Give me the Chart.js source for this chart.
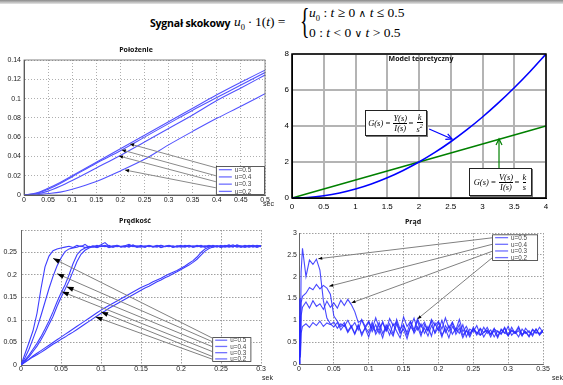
<!DOCTYPE html>
<html><head><meta charset="utf-8">
<script src="https://cdn.jsdelivr.net/npm/chart.js@4.4.1/dist/chart.umd.min.js"></script>
<style>
body{margin:0;width:563px;height:385px;position:relative;background:#fff;overflow:hidden;font-family:'Liberation Sans',Arial,sans-serif}
canvas{position:absolute}
.t{position:absolute;white-space:nowrap;line-height:1}
.c{transform:translate(-50%,-50%)}
.ttl{font:bold 7px 'Open Sans','Liberation Sans',sans-serif;color:#111}
.ser{font-family:'Liberation Serif','Times New Roman',serif}
.op{font-family:'DejaVu Sans',sans-serif;font-size:10.5px;font-weight:normal}
.fr{display:inline-block;vertical-align:middle;text-align:center;margin:0 1px}
.fr span{display:block;line-height:1.05}
.fr span.n{border-bottom:0.8px solid #000}
.fbox{position:absolute;background:#fff;border:1px solid #222;box-shadow:1px 1px 0 #777;display:flex;align-items:center;justify-content:center;font:italic 8.5px 'Liberation Serif',serif;white-space:nowrap}
</style></head><body>
<div style="position:absolute;left:0;top:0;width:563px;height:4px;background:linear-gradient(#8a8a8a,#e6e6e6)"></div>

<div class="t" style="left:150px;top:16px;font:bold 10.5px 'Open Sans',sans-serif;letter-spacing:-0.2px">Sygnał skokowy</div>
<div class="t ser" style="left:234px;top:15px;font-size:13.5px"><i>u</i><sub style="font-size:8.5px">0</sub>&thinsp;·&thinsp;1(<i>t</i>) =</div>
<div class="t ser" style="left:300px;top:3px;font-size:36px;transform:scaleX(0.55);transform-origin:left top">{</div>
<div class="t ser" style="left:309px;top:6px;font-size:13.5px"><i>u</i><sub style="font-size:8.5px">0</sub> : <i>t</i> ≥ 0 <span class="op">∧</span> <i>t</i> ≤ 0.5</div>
<div class="t ser" style="left:309px;top:26px;font-size:13.5px">0 : <i>t</i> &lt; 0 <span class="op">∨</span> <i>t</i> &gt; 0.5</div>

<canvas id="c1" width="280" height="172" style="left:0;top:40px"></canvas>
<canvas id="c2" width="283" height="172" style="left:280px;top:40px"></canvas>
<canvas id="c3" width="280" height="170" style="left:0;top:215px"></canvas>
<canvas id="c4" width="283" height="170" style="left:280px;top:215px"></canvas>

<div class="t c ttl" style="left:136px;top:49px">Położenie</div>
<div class="t" style="left:263px;top:200px;font-size:7px;color:#222">sec</div>
<div class="t c ttl" style="left:421px;top:58px">Model teoretyczny</div>
<div class="fbox" style="left:365px;top:110px;width:60px;height:24px">G(s)&thinsp;=&thinsp;<span class="fr"><span class="n">Y(s)</span><span>I(s)</span></span>=&thinsp;<span class="fr"><span class="n">k</span><span>s<sup style="font-size:6px">2</sup></span></span></div>
<div class="fbox" style="left:469px;top:168px;width:61px;height:26px">G(s)&thinsp;=&thinsp;<span class="fr"><span class="n">V(s)</span><span>I(s)</span></span>=&thinsp;<span class="fr"><span class="n">k</span><span>s</span></span></div>
<div class="t c ttl" style="left:135px;top:220px">Prędkość</div>
<div class="t" style="left:262px;top:374px;font-size:7px;color:#222">sek</div>
<div class="t c ttl" style="left:413px;top:221px">Prąd</div>
<div class="t" style="left:552px;top:374px;font-size:7px;color:#222">sek</div>

<script>
// ---------- data ----------
const uLabels = ['u=0.5','u=0.4','u=0.3','u=0.2'];

// Położenie
const posT   = [0,0.025,0.05,0.075,0.1,0.15,0.2,0.25,0.3,0.35,0.4,0.45,0.5];
const posU05 = [0,0.002,0.007,0.013,0.02,0.034,0.048,0.062,0.076,0.090,0.104,0.117,0.1295];
const posU04 = [0,0.0015,0.006,0.012,0.019,0.033,0.046,0.060,0.074,0.088,0.101,0.114,0.127];
const posU03 = [0,0.001,0.004,0.009,0.015,0.028,0.041,0.055,0.069,0.083,0.098,0.111,0.1244];
const posU02 = [0,0.0003,0.0015,0.003,0.006,0.014,0.025,0.037,0.052,0.066,0.0795,0.092,0.105];
const posXTicks = [0,0.05,0.1,0.15,0.2,0.25,0.3,0.35,0.4,0.45,0.5];
const posXLabels = ['0','0.05','0.1','0.15','0.2','0.25','0.3','0.35','0.4','0.45','0.5'];
const posYTicks = [0,0.02,0.04,0.06,0.08,0.1,0.12,0.14];
const posYLabels = ['0','0.02','0.04','0.06','0.08','0.1','0.12','0.14'];
const posArrowFrom = [[0.4,0.028],[0.4,0.0197],[0.4,0.0135],[0.4,0.0073]];
const posArrowTo   = [[0.22,0.0529],[0.203,0.0467],[0.197,0.0404],[0.2095,0.0259]];

// Model teoretyczny
const modT  = [0,0.25,0.5,0.75,1,1.25,1.5,1.75,2,2.25,2.5,2.75,3,3.25,3.5,3.75,4];
const modY  = [0,0.031,0.125,0.281,0.5,0.781,1.125,1.531,2,2.531,3.125,3.781,4.5,5.281,6.125,7.031,8];
const modV  = [0,0.25,0.5,0.75,1,1.25,1.5,1.75,2,2.25,2.5,2.75,3,3.25,3.5,3.75,4];
const modXTicks = [0,0.5,1,1.5,2,2.5,3,3.5,4];
const modXLabels = ['0','0.5','1','1.5','2','2.5','3','3.5','4'];
const modYTicks = [0,2,4,6,8];
const modYLabels = ['0','2','4','6','8'];

// Prędkość
const velT = [0,0.005,0.01,0.015,0.02,0.025,0.03,0.035,0.04,0.045,
  0.05,0.055,0.06,0.065,0.07,0.075,0.08,0.085,0.09,0.095,
  0.1,0.105,0.11,0.115,0.12,0.125,0.13,0.135,0.14,0.145,
  0.15,0.155,0.16,0.165,0.17,0.175,0.18,0.185,0.19,0.195,
  0.2,0.205,0.21,0.215,0.22,0.225,0.23,0.235,0.24,0.245,
  0.25,0.255,0.26,0.265,0.27,0.275,0.28,0.285,0.29,0.295,0.3];
const velU05 = [0,0.025,0.05,0.076,0.115,0.17,0.218,0.242,0.254,0.258,
  0.26,0.262,0.264,0.261,0.266,0.263,0.268,0.262,0.265,0.263,
  0.267,0.272,0.264,0.262,0.266,0.263,0.265,0.268,0.264,0.262,
  0.266,0.263,0.265,0.262,0.264,0.266,0.263,0.265,0.262,0.264,
  0.263,0.266,0.262,0.265,0.263,0.264,0.262,0.266,0.263,0.265,
  0.262,0.264,0.266,0.263,0.265,0.262,0.264,0.263,0.266,0.262,0.264];
const velU04 = [0,0.016,0.035,0.058,0.082,0.11,0.14,0.17,0.197,0.22,
  0.238,0.252,0.258,0.26,0.262,0.265,0.261,0.264,0.262,0.266,
  0.263,0.265,0.261,0.264,0.266,0.262,0.264,0.263,0.267,0.262,
  0.264,0.262,0.266,0.263,0.265,0.261,0.264,0.266,0.262,0.265,
  0.262,0.264,0.266,0.262,0.264,0.263,0.265,0.262,0.266,0.263,
  0.265,0.262,0.264,0.267,0.263,0.265,0.262,0.264,0.266,0.263,0.265];
const velU03a = [0,0.011,0.022,0.035,0.048,0.063,0.08,0.098,0.118,0.14,
  0.16,0.178,0.2,0.225,0.245,0.255,0.26,0.262,0.264,0.261,
  0.265,0.263,0.266,0.262,0.264,0.263,0.265,0.262,0.266,0.263,
  0.262,0.265,0.263,0.264,0.262,0.266,0.263,0.265,0.262,0.264,
  0.266,0.263,0.265,0.262,0.264,0.266,0.262,0.265,0.263,0.264,
  0.262,0.266,0.263,0.265,0.262,0.264,0.263,0.266,0.262,0.265,0.263];
const velU03b = [0,0.009,0.018,0.03,0.042,0.056,0.072,0.09,0.108,0.13,
  0.15,0.168,0.186,0.208,0.23,0.246,0.255,0.26,0.263,0.262,
  0.264,0.266,0.262,0.265,0.263,0.264,0.262,0.266,0.263,0.265,
  0.264,0.262,0.265,0.263,0.266,0.262,0.264,0.263,0.265,0.262,
  0.264,0.262,0.265,0.263,0.266,0.262,0.264,0.265,0.262,0.264,
  0.263,0.265,0.262,0.264,0.266,0.263,0.265,0.262,0.264,0.263,0.265];
const velU02a = [0,0.007,0.013,0.02,0.026,0.032,0.038,0.044,0.05,0.056,
  0.062,0.068,0.074,0.08,0.086,0.092,0.098,0.104,0.11,0.116,
  0.122,0.127,0.132,0.137,0.142,0.147,0.152,0.157,0.162,0.167,
  0.172,0.176,0.18,0.185,0.189,0.193,0.198,0.202,0.206,0.21,
  0.215,0.22,0.226,0.232,0.24,0.25,0.258,0.262,0.265,0.262,
  0.266,0.263,0.265,0.262,0.267,0.264,0.262,0.265,0.263,0.266,0.264];
const velU02b = [0,0.006,0.012,0.018,0.023,0.028,0.034,0.04,0.046,0.051,
  0.057,0.062,0.068,0.073,0.079,0.085,0.091,0.097,0.103,0.109,
  0.115,0.12,0.126,0.131,0.136,0.141,0.146,0.151,0.156,0.161,
  0.166,0.171,0.175,0.18,0.185,0.189,0.194,0.198,0.203,0.207,
  0.212,0.217,0.222,0.228,0.235,0.244,0.253,0.259,0.262,0.265,
  0.262,0.264,0.267,0.263,0.265,0.262,0.266,0.263,0.264,0.262,0.265];
const velXTicks = [0,0.05,0.1,0.15,0.2,0.25,0.3];
const velXLabels = ['0','0.05','0.1','0.15','0.2','0.25','0.3'];
const velYTicks = [0,0.05,0.1,0.15,0.2,0.25,0.3];
const velYLabels = ['0','0.05','0.1','0.15','0.2','0.25',''];
const velArrowFrom = [[0.239,0.06],[0.239,0.052],[0.239,0.041],[0.239,0.03],[0.239,0.019],[0.239,0.013]];
const velArrowTo   = [[0.040,0.237],[0.045,0.203],[0.057,0.174],[0.051,0.163],[0.1,0.118],[0.093,0.107]];

// Prąd
const curT = [0,0.001,0.002,0.003,0.005,0.01,0.015,0.02,0.025,0.03,0.035,0.04,0.045,0.05,0.055,0.06,0.065,0.07,0.075,0.08,
  0.085,0.09,0.095,0.1,0.105,0.11,0.115,0.12,0.125,0.13,0.135,0.14,0.145,0.15,0.155,0.16,0.165,0.17,0.175,0.18,
  0.185,0.19,0.195,0.2,0.205,0.21,0.215,0.22,0.225,0.23,0.235,0.24,0.245,0.25,0.255,0.26,0.265,0.27,0.275,0.28,
  0.285,0.29,0.295,0.3,0.305,0.31,0.315,0.32,0.325,0.33,0.335,0.34,0.345,0.35];
const curU05 = [0,1.5,0.4,2.1,2.65, 2.0,2.38,2.28,2.4,2.15, 1.45,1.05,0.92,0.85,0.95, 0.78,0.9,0.72,0.85,0.68,
  0.88,0.7,0.82,0.62,0.9, 0.74,0.95,0.7,0.86,0.66, 0.92,0.75,0.6,0.88,0.72, 0.96,0.7,0.85,0.64,0.9,
  0.76,0.98,0.7,0.84,0.62, 0.88,0.74,0.94,0.68,0.82, 0.6,0.78,0.66,0.84,0.7, 0.8,0.62,0.76,0.68,0.82,
  0.64,0.78,0.7,0.86,0.66, 0.74,0.62,0.8,0.7,0.76, 0.64,0.8,0.68,0.74];
const curU04 = [0,1.1,0.3,1.4,1.55, 1.62,1.75,1.7,1.82,1.72, 1.8,1.74,1.6,1.1,0.98, 0.85,0.95,0.75,0.88,0.7,
  0.9,0.65,0.84,0.72,0.96, 0.68,0.82,0.6,0.9,0.78, 0.64,0.92,0.7,0.8,0.58, 0.86,0.74,1.0,0.7,0.82,
  0.64,0.88,0.72,0.96,0.66, 0.8,0.6,0.86,0.74,0.9, 0.66,0.76,0.62,0.8,0.72, 0.66,0.84,0.7,0.78,0.62,
  0.76,0.68,0.82,0.64,0.78, 0.72,0.86,0.66,0.74,0.62, 0.78,0.7,0.84,0.72];
const curU03 = [0,0.8,0.2,1.1,1.3, 1.42,1.28,1.45,1.32,1.38, 1.25,1.44,1.3,1.4,1.28, 1.46,1.34,1.48,1.36,1.2,
  0.95,1.0,0.82,0.96,0.74, 0.9,0.7,0.98,0.76,0.92, 0.68,1.02,0.8,0.9,0.66, 0.84,1.05,0.78,0.92,0.7,
  0.86,0.64,0.94,0.76,1.0, 0.72,0.88,0.68,0.82,0.7, 0.9,0.62,0.8,0.74,0.88, 0.66,0.72,0.84,0.68,0.76,
  0.6,0.8,0.72,0.66,0.84, 0.7,0.76,0.64,0.82,0.72, 0.68,0.8,0.66,0.76];
const curU02 = [0,0.5,0.15,0.7,0.86, 0.92,0.84,0.95,0.88,0.98, 0.86,0.94,0.9,0.96,0.82, 0.92,0.86,1.0,0.84,0.95,
  0.78,1.02,0.86,0.98,0.8, 1.06,0.84,0.94,0.76,1.04, 0.88,0.96,0.74,1.08,0.86, 0.98,0.78,1.04,0.84,0.96,
  0.76,1.02,0.88,0.98,0.8, 1.06,0.82,0.96,0.78,1.02, 0.74,0.86,0.7,0.8,0.66, 0.82,0.72,0.78,0.62,0.8,
  0.74,0.7,0.84,0.66,0.76, 0.7,0.82,0.68,0.74,0.64, 0.8,0.72,0.7,0.78];
const curXTicks = [0,0.05,0.1,0.15,0.2,0.25,0.3,0.35];
const curXLabels = ['0','0.05','0.1','0.15','0.2','0.25','0.3','0.35'];
const curYTicks = [0,0.5,1,1.5,2,2.5,3];
const curYLabels = ['0','0.5','1','1.5','2','2.5','3'];
const curArrowFrom = [[0.277,2.89],[0.277,2.74],[0.277,2.58],[0.277,2.43]];
const curArrowTo   = [[0.0276,2.41],[0.0433,1.78],[0.0753,1.40],[0.170,1.03]];

// ---------- helpers ----------
const xy = (t, v) => t.map((x, i) => ({x, y: v[i]}));
const tickFont = {family:"'Liberation Sans', Arial, sans-serif", size:7};

function scaleOpts(s){
  return {
    x:{type:'linear',min:s.x.min,max:s.x.max,
      afterBuildTicks:a=>{a.ticks=s.x.ticks.map(v=>({value:v}));},
      afterFit:a=>{a.height=s.xH;},
      ticks:{autoSkip:false,maxRotation:0,minRotation:0,padding:s.xPad,font:s.font||tickFont,color:s.tc||'#222',callback:(v,i)=>s.x.labels[i]},
      grid:{color:s.gc,lineWidth:s.gw,drawTicks:false},
      border:{display:true,color:s.ac,width:1,dash:s.dash}},
    y:{type:'linear',min:s.y.min,max:s.y.max,
      afterBuildTicks:a=>{a.ticks=s.y.ticks.map(v=>({value:v}));},
      afterFit:a=>{a.width=s.yW;},
      ticks:{autoSkip:false,padding:s.yPad,font:s.font||tickFont,color:s.tc||'#222',callback:(v,i)=>s.y.labels[i]},
      grid:{color:s.gc,lineWidth:s.gw,drawTicks:false},
      border:{display:true,color:s.ac,width:1,dash:s.dash}}
  };
}

function head(ctx,x0,y0,x1,y1,L,W,fill,color){
  const a=Math.atan2(y1-y0,x1-x0);
  const bx=x1-L*Math.cos(a), by=y1-L*Math.sin(a);
  const px=-Math.sin(a)*W/2, py=Math.cos(a)*W/2;
  ctx.beginPath(); ctx.moveTo(bx+px,by+py); ctx.lineTo(x1,y1); ctx.lineTo(bx-px,by-py);
  if(fill){ctx.closePath();ctx.fillStyle=color;ctx.fill();}
  else{ctx.strokeStyle=color;ctx.lineWidth=1.2;ctx.stroke();}
}

function deco(id,c){
  return {id, afterDatasetsDraw(chart){
    const {ctx, chartArea:a, scales:{x,y}} = chart;
    ctx.save();
    if(c.box){ctx.strokeStyle=c.box.color;ctx.lineWidth=c.box.width;ctx.setLineDash([]);
      ctx.strokeRect(a.left,a.top,a.right-a.left,a.bottom-a.top);}
    (c.from||[]).forEach((f,i)=>{
      const to=c.to[i];
      const x0=x.getPixelForValue(f[0]), y0=y.getPixelForValue(f[1]);
      const x1=x.getPixelForValue(to[0]), y1=y.getPixelForValue(to[1]);
      const col=(c.lineColors&&c.lineColors[i])||c.lineColor;
      ctx.strokeStyle=col; ctx.lineWidth=c.lineW||1; ctx.setLineDash([]);
      ctx.beginPath(); ctx.moveTo(x0,y0); ctx.lineTo(x1,y1); ctx.stroke();
      head(ctx,x0,y0,x1,y1,c.headL,c.headW,c.headFill,(c.headColors&&c.headColors[i])||c.headColor);
    });
    if(c.legend){
      const L=c.legend;
      const lx=x.getPixelForValue(L.x0), rx=x.getPixelForValue(L.x1);
      const ty=y.getPixelForValue(L.y1), by=y.getPixelForValue(L.y0);
      ctx.fillStyle='#fff'; ctx.fillRect(lx,ty,rx-lx,by-ty);
      ctx.strokeStyle='#333'; ctx.lineWidth=0.8; ctx.strokeRect(lx+0.5,ty+0.5,rx-lx-1,by-ty-1);
      const rh=(by-ty)/L.labels.length;
      ctx.font=L.fs+"px 'Liberation Sans', Arial, sans-serif"; ctx.textBaseline='middle'; ctx.textAlign='left';
      L.labels.forEach((lab,i)=>{
        const cy=ty+rh*(i+0.5);
        ctx.strokeStyle='#7070ff'; ctx.lineWidth=1.3;
        ctx.beginPath(); ctx.moveTo(lx+3,cy); ctx.lineTo(lx+3+L.sw,cy); ctx.stroke();
        ctx.fillStyle='#444'; ctx.fillText(lab,lx+6+L.sw,cy+0.5);
      });
    }
    ctx.restore();
  }};
}

const base = {responsive:false,animation:false,events:[],plugins:{legend:{display:false},tooltip:{enabled:false}}};
const blue = '#3d3dff';

// ---------- Chart 1: Położenie ----------
new Chart(document.getElementById('c1'),{
  type:'line',
  data:{datasets:[posU05,posU04,posU03,posU02].map((v,i)=>({label:uLabels[i],data:xy(posT,v),
    borderColor:'#5252ff',borderWidth:1.1,pointRadius:0,cubicInterpolationMode:'monotone'}))},
  options:{...base,layout:{padding:{top:20,right:15,bottom:0,left:0}},
    scales:scaleOpts({x:{min:0,max:0.5,ticks:posXTicks,labels:posXLabels},y:{min:0,max:0.14,ticks:posYTicks,labels:posYLabels},
      xH:17,yW:24,xPad:1,yPad:3,gc:'#9a9a9a',gw:0.8,ac:'#555',dash:[1,2]})},
  plugins:[deco('d1',{box:{color:'#666',width:0.8},from:posArrowFrom,to:posArrowTo,lineColor:'#8a8a8a',headL:4,headW:3.5,headFill:true,headColor:'#000',
    legend:{x0:0.398,x1:0.5,y0:0,y1:0.030,labels:uLabels,fs:6.5,sw:13}})]
});

// ---------- Chart 2: Model teoretyczny ----------
new Chart(document.getElementById('c2'),{
  type:'line',
  data:{datasets:[
    {label:'k/s^2',data:xy(modT,modY),borderColor:'#0000ff',borderWidth:1.6,pointRadius:0,tension:0.3},
    {label:'k/s',data:xy(modT,modV),borderColor:'#008000',borderWidth:1.6,pointRadius:0}]},
  options:{...base,layout:{padding:{top:14,right:17,bottom:0,left:0}},
    scales:scaleOpts({x:{min:0,max:4,ticks:modXTicks,labels:modXLabels},y:{min:0,max:8,ticks:modYTicks,labels:modYLabels},
      xH:14,yW:12,xPad:4,yPad:3,gc:'#b4b4b4',gw:2,ac:'#000',dash:[],
      font:{family:"'Liberation Sans', Arial, sans-serif",size:8},tc:'#000'})},
  plugins:[deco('d2',{box:{color:'#000',width:1.5},from:[[2.16,3.83],[3.26,1.56]],to:[[2.52,3.28],[3.26,3.28]],
    lineColors:['#0000ff','#008000'],headColors:['#0000ff','#008000'],lineW:1.2,headL:6,headW:6,headFill:false})]
});

// ---------- Chart 3: Prędkość ----------
const velSeries=[velU05,velU04,velU03a,velU03b,velU02a,velU02b];
new Chart(document.getElementById('c3'),{
  type:'line',
  data:{datasets:velSeries.map((v,i)=>({label:uLabels[[0,1,2,2,3,3][i]],data:xy(velT,v),
    borderColor:blue,borderWidth:1.1,pointRadius:0}))},
  options:{...base,layout:{padding:{top:15,right:19,bottom:0,left:0}},
    scales:scaleOpts({x:{min:0,max:0.3,ticks:velXTicks,labels:velXLabels},y:{min:0,max:0.3,ticks:velYTicks,labels:velYLabels},
      xH:20,yW:21,xPad:0,yPad:4,gc:'#888',gw:0.8,ac:'#666',dash:[1.5,1.5]})},
  plugins:[deco('d3',{from:velArrowFrom,to:velArrowTo,lineColor:'#808080',headL:7,headW:5,headFill:true,headColor:'#000',
    legend:{x0:0.239,x1:0.288,y0:0.0066,y1:0.062,labels:uLabels,fs:6.3,sw:12}})]
});

// ---------- Chart 4: Prąd ----------
new Chart(document.getElementById('c4'),{
  type:'line',
  data:{datasets:[curU05,curU04,curU03,curU02].map((v,i)=>({label:uLabels[i],data:xy(curT,v),
    borderColor:'rgba(40,40,255,0.85)',borderWidth:1.1,pointRadius:0}))},
  options:{...base,layout:{padding:{top:18,right:20,bottom:0,left:0}},
    scales:scaleOpts({x:{min:0,max:0.35,ticks:curXTicks,labels:curXLabels},y:{min:0,max:3,ticks:curYTicks,labels:curYLabels},
      xH:21,yW:19,xPad:1,yPad:2,gc:'#888',gw:0.8,ac:'#666',dash:[1.5,1.5]})},
  plugins:[deco('d4',{from:curArrowFrom,to:curArrowTo,lineColor:'#808080',headL:4,headW:3,headFill:true,headColor:'#000',
    legend:{x0:0.277,x1:0.343,y0:2.36,y1:2.97,labels:uLabels,fs:6.3,sw:13}})]
});
</script>
</body></html>
